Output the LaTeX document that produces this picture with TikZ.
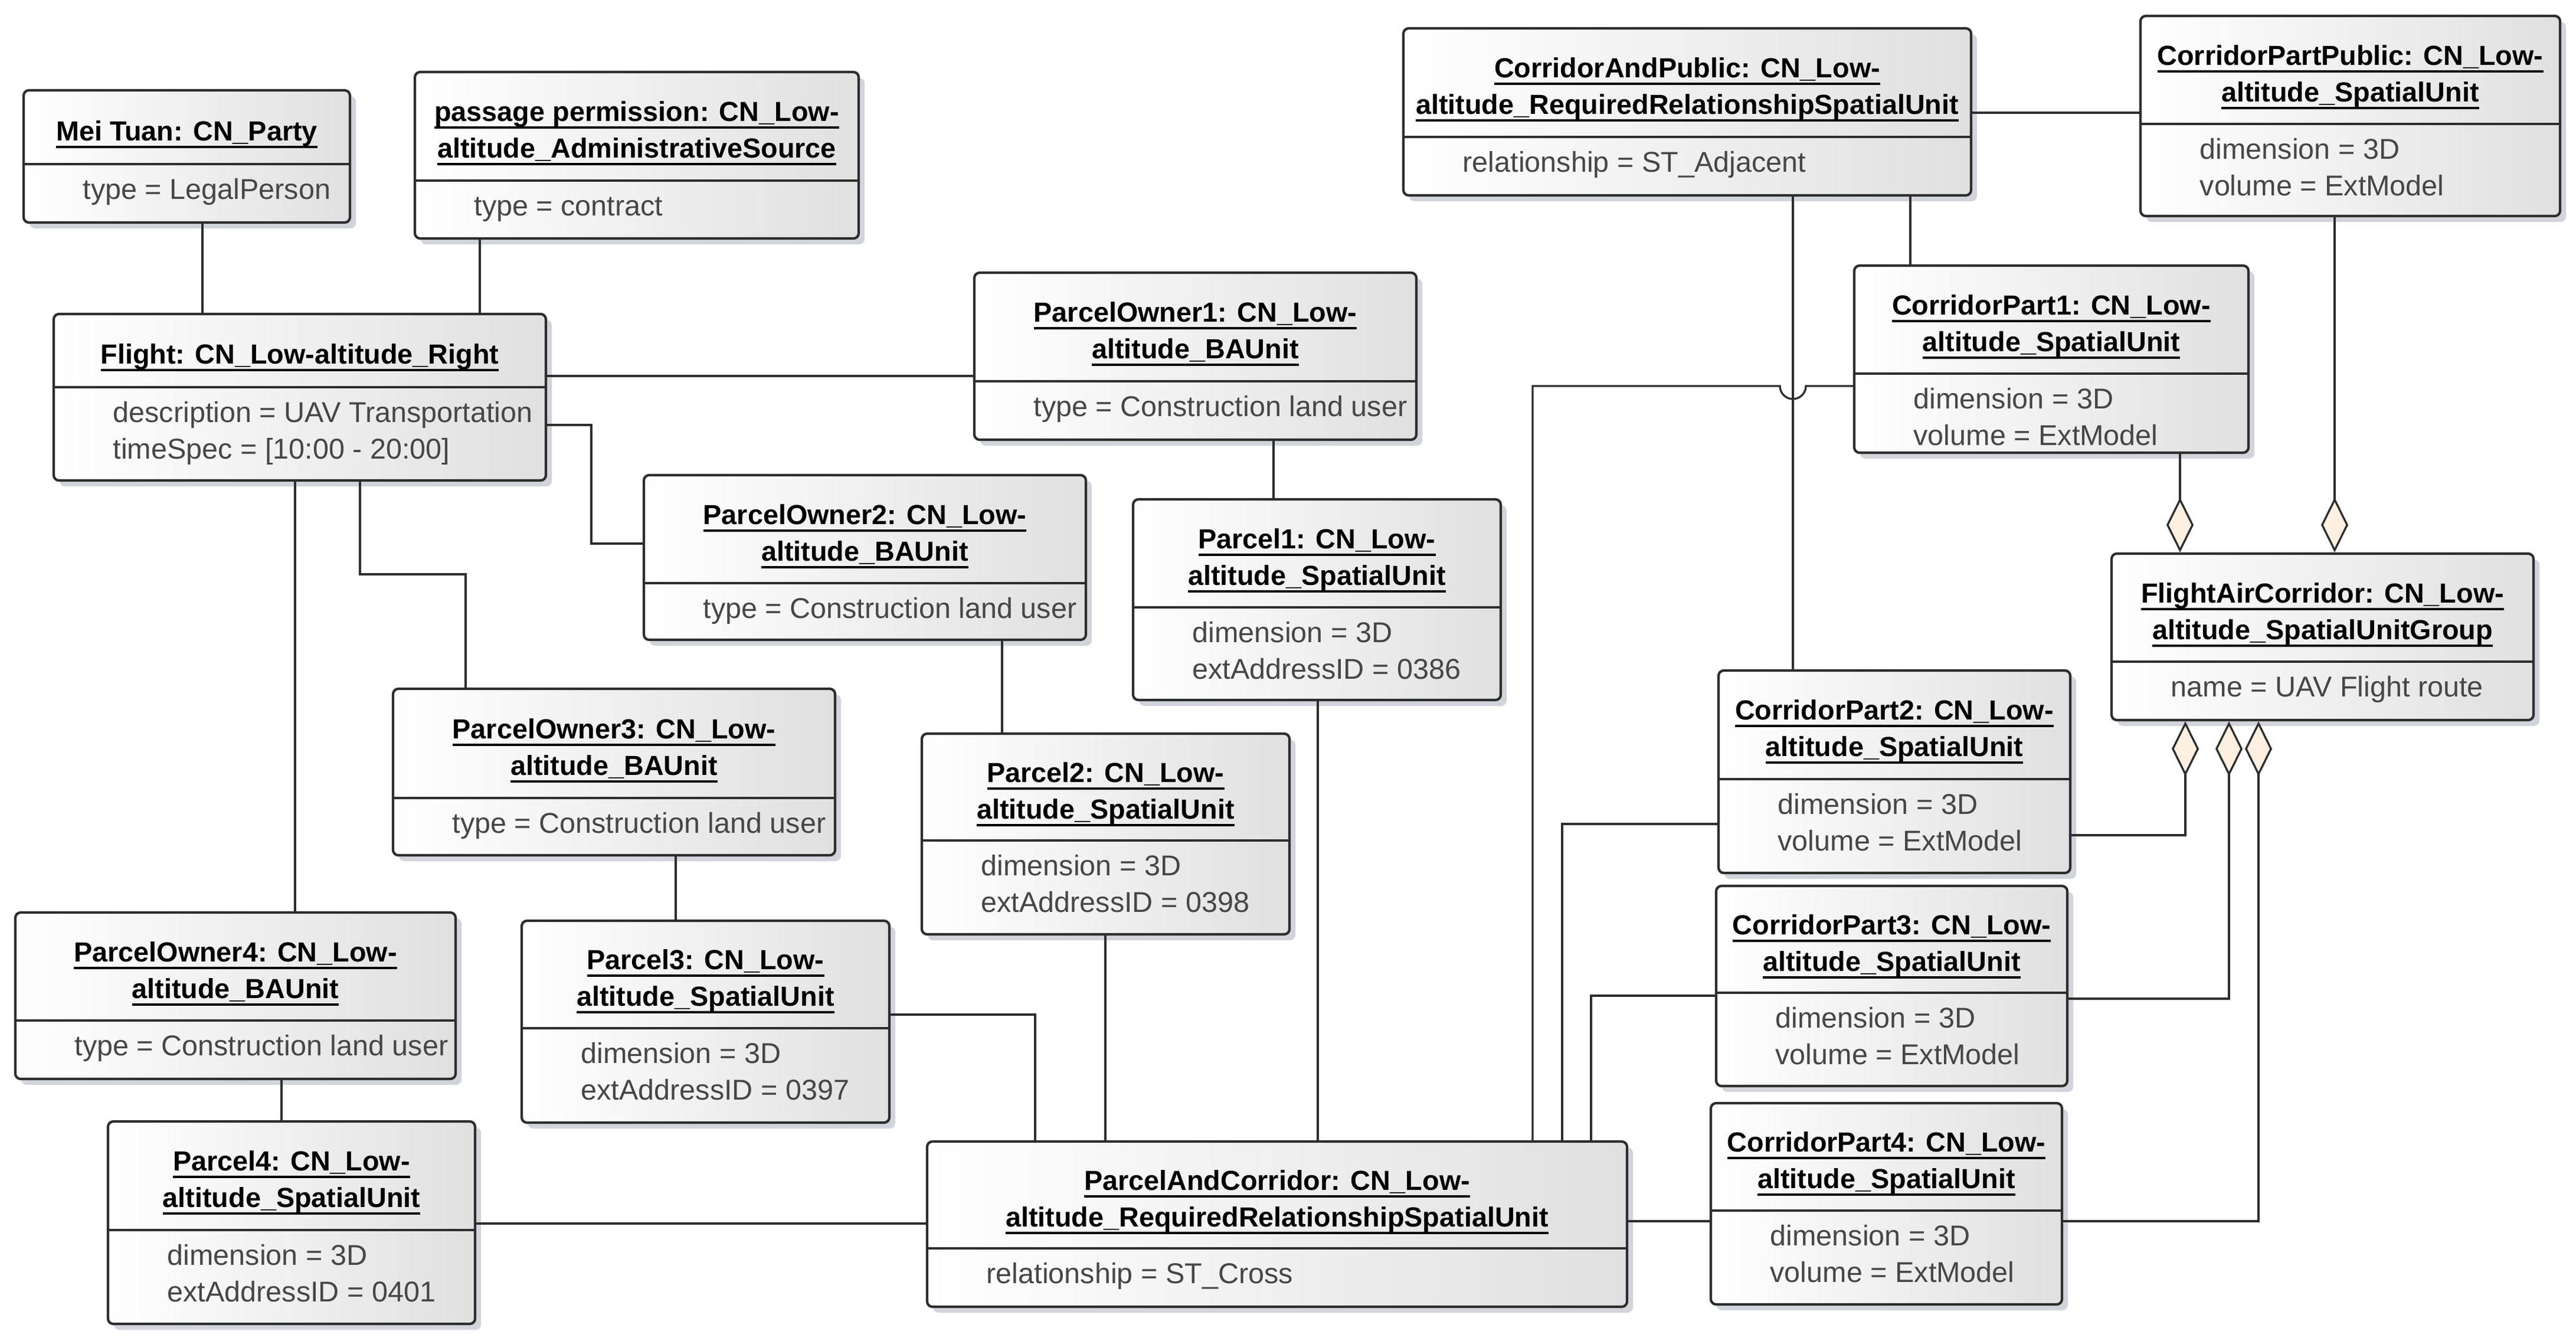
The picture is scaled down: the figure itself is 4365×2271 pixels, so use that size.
\documentclass[tikz,border=0pt]{standalone}
\usepackage{fontspec}
\setmainfont{Liberation Sans}
\usetikzlibrary{fit,arrows.meta}
\definecolor{boxcol}{RGB}{45,45,45}
\definecolor{attrcol}{RGB}{70,70,70}
\definecolor{shadecol}{RGB}{224,224,224}
\definecolor{shadowcol}{RGB}{210,212,220}
\definecolor{aggfill}{RGB}{253,240,225}
\newcommand\ulx[1]{\setbox0=\hbox{#1}\rlap{\rule[-3.6pt]{\wd0}{1.1pt}}\box0}
\newcommand\umlobj[9]{%
  \fill[shadowcol,rounded corners=0.9mm] (#2+10,#3+10) rectangle (#4+10,#5+10);
  \node[umlbox,fit={(#2,#3) (#4,#5)}] (#1) {};
  \draw[divline] (#2,#6) -- (#4,#6);
  \node[ttl] (#1-t) at ({(#2+#4)/2},{(#3+#6)/2+12}) {#7};
  \node[attr] (#1-a) at (#2+100,#6+59) {#8};
  \node[attr] (#1-b) at (#2+100,#6+121) {#9};
}
\begin{document}
\begin{tikzpicture}[x=0.01cm,y=-0.01cm,
  umlbox/.style={inner sep=0pt,draw=boxcol,line width=1.2pt,rounded corners=0.9mm,
    left color=white,right color=shadecol},
  divline/.style={draw=boxcol,line width=1.2pt},
  ttl/.style={inner sep=0pt,align=center,text=black,font=\fontsize{13.3}{17.6}\selectfont\bfseries},
  attr/.style={inner sep=0pt,anchor=base west,text=attrcol,font=\fontsize{13.8}{17.6}\selectfont},
  conn/.style={draw=boxcol,line width=0.95pt},
  agg/.style={conn,arrows={Diamond[length=9.3mm,width=4.6mm,fill=aggfill]-}}]
\useasboundingbox (0,0) rectangle (4365,2271);
\fill[white] (0,0) rectangle (4365,2271);

\umlobj{meituan}{40}{153}{593}{377}{278}{\ulx{Mei Tuan: CN\_Party}}{type = LegalPerson}{}
\umlobj{passage}{703}{122}{1455}{404}{306}{\ulx{passage permission: CN\_Low-}\\\ulx{altitude\_AdministrativeSource}}{type = contract}{}
\umlobj{flight}{91}{532}{925}{814}{656}{\ulx{Flight: CN\_Low-altitude\_Right}}{description = UAV Transportation}{timeSpec = [10:00 - 20:00]}
\umlobj{po1}{1651}{462}{2400}{745}{646}{\ulx{ParcelOwner1: CN\_Low-}\\\ulx{altitude\_BAUnit}}{type = Construction land user}{}
\umlobj{po2}{1091}{805}{1840}{1084}{988}{\ulx{ParcelOwner2: CN\_Low-}\\\ulx{altitude\_BAUnit}}{type = Construction land user}{}
\umlobj{po3}{666}{1167}{1415}{1449}{1352}{\ulx{ParcelOwner3: CN\_Low-}\\\ulx{altitude\_BAUnit}}{type = Construction land user}{}
\umlobj{po4}{26}{1546}{772}{1828}{1729}{\ulx{ParcelOwner4: CN\_Low-}\\\ulx{altitude\_BAUnit}}{type = Construction land user}{}
\umlobj{parcel1}{1920}{846}{2543}{1186}{1029}{\ulx{Parcel1: CN\_Low-}\\\ulx{altitude\_SpatialUnit}}{dimension = 3D}{extAddressID = 0386}
\umlobj{parcel2}{1562}{1243}{2185}{1583}{1424}{\ulx{Parcel2: CN\_Low-}\\\ulx{altitude\_SpatialUnit}}{dimension = 3D}{extAddressID = 0398}
\umlobj{parcel3}{884}{1560}{1507}{1902}{1742}{\ulx{Parcel3: CN\_Low-}\\\ulx{altitude\_SpatialUnit}}{dimension = 3D}{extAddressID = 0397}
\umlobj{parcel4}{183}{1900}{805}{2243}{2084}{\ulx{Parcel4: CN\_Low-}\\\ulx{altitude\_SpatialUnit}}{dimension = 3D}{extAddressID = 0401}
\umlobj{pac}{1571}{1934}{2757}{2214}{2115}{\ulx{ParcelAndCorridor: CN\_Low-}\\\ulx{altitude\_RequiredRelationshipSpatialUnit}}{relationship = ST\_Cross}{}
\umlobj{cap}{2378}{48}{3340}{331}{232}{\ulx{CorridorAndPublic: CN\_Low-}\\\ulx{altitude\_RequiredRelationshipSpatialUnit}}{relationship = ST\_Adjacent}{}
\umlobj{cpp}{3627}{27}{4338}{366}{210}{\ulx{CorridorPartPublic: CN\_Low-}\\\ulx{altitude\_SpatialUnit}}{dimension = 3D}{volume = ExtModel}
\umlobj{cp1}{3142}{450}{3810}{767}{633}{\ulx{CorridorPart1: CN\_Low-}\\\ulx{altitude\_SpatialUnit}}{dimension = 3D}{volume = ExtModel}
\umlobj{fac}{3578}{938}{4293}{1220}{1121}{\ulx{FlightAirCorridor: CN\_Low-}\\\ulx{altitude\_SpatialUnitGroup}}{name = UAV Flight route}{}
\umlobj{cp2}{2912}{1136}{3508}{1479}{1320}{\ulx{CorridorPart2: CN\_Low-}\\\ulx{altitude\_SpatialUnit}}{dimension = 3D}{volume = ExtModel}
\umlobj{cp3}{2908}{1501}{3503}{1840}{1682}{\ulx{CorridorPart3: CN\_Low-}\\\ulx{altitude\_SpatialUnit}}{dimension = 3D}{volume = ExtModel}
\umlobj{cp4}{2899}{1869}{3494}{2210}{2051}{\ulx{CorridorPart4: CN\_Low-}\\\ulx{altitude\_SpatialUnit}}{dimension = 3D}{volume = ExtModel}

% connectors
\draw[conn] (meituan.south -| 343,0) -- (flight.north -| 343,0);
\draw[conn] (passage.south -| 813,0) -- (flight.north -| 813,0);
\draw[conn] (flight.east |- 0,637) -- (po1.west |- 0,637);
\draw[conn] (flight.east |- 0,720) -| (1002,921) -- (po2.west |- 0,921);
\draw[conn] (flight.south -| 610,0) |- (789,973) -- (po3.north -| 789,0);
\draw[conn] (flight.south -| 500,0) -- (po4.north -| 500,0);
\draw[conn] (po1.south -| 2158,0) -- (parcel1.north -| 2158,0);
\draw[conn] (po2.south -| 1698,0) -- (parcel2.north -| 1698,0);
\draw[conn] (po3.south -| 1145,0) -- (parcel3.north -| 1145,0);
\draw[conn] (po4.south -| 477,0) -- (parcel4.north -| 477,0);
\draw[conn] (parcel4.east |- 0,2073) -- (pac.west |- 0,2073);
\draw[conn] (parcel3.east |- 0,1719) -| (pac.north -| 1754,0);
\draw[conn] (parcel2.south -| 1873,0) -- (pac.north -| 1873,0);
\draw[conn] (parcel1.south -| 2233,0) -- (pac.north -| 2233,0);
\draw[conn] (cp1.west |- 0,654) -- (3060,654) arc[start angle=0,end angle=180,radius=22] -- (2597,654) -- (pac.north -| 2597,0);
\draw[conn] (cp2.west |- 0,1396) -| (pac.north -| 2647,0);
\draw[conn] (cp3.west |- 0,1687) -| (pac.north -| 2696,0);
\draw[conn] (cp4.west |- 0,2069) -- (pac.east |- 0,2069);
\draw[conn] (cap.east |- 0,191) -- (cpp.west |- 0,191);
\draw[conn] (cap.south -| 3038,0) -- (cp2.north -| 3038,0);
\draw[conn] (cap.south -| 3237,0) -- (cp1.north -| 3237,0);
\draw[agg] (fac.north -| 3694,0) -- (cp1.south -| 3694,0);
\draw[agg] (fac.north -| 3956,0) -- (cpp.south -| 3956,0);
\draw[agg] (fac.south -| 3703,0) |- (cp2.east |- 0,1415);
\draw[agg] (fac.south -| 3777,0) |- (cp3.east |- 0,1692);
\draw[agg] (fac.south -| 3827,0) |- (cp4.east |- 0,2069);
\end{tikzpicture}
\end{document}
